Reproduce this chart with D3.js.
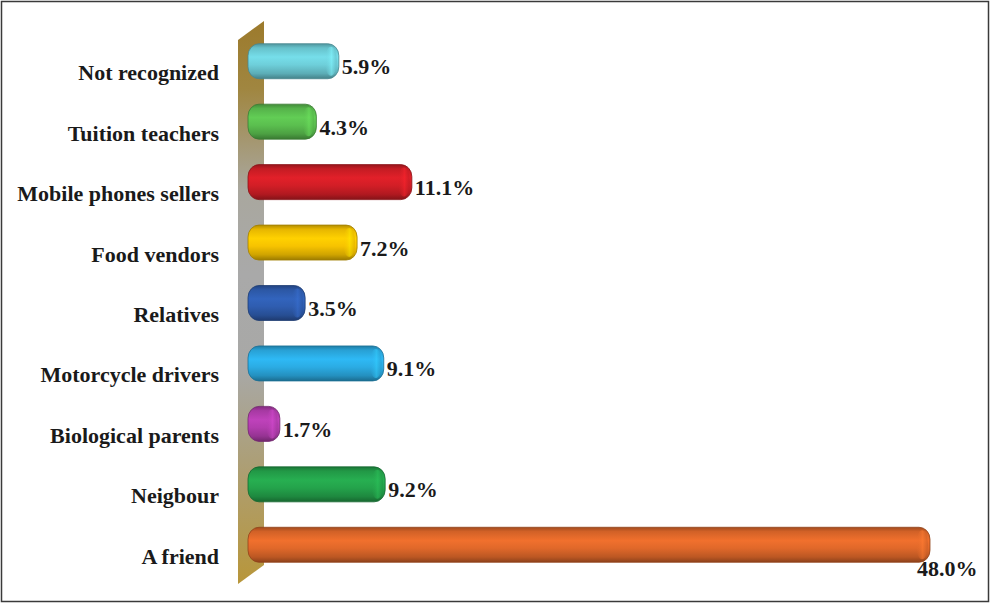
<!DOCTYPE html>
<html>
<head>
<meta charset="utf-8">
<script src="https://cdn.jsdelivr.net/npm/d3@7"></script>
<style>
  html, body { margin: 0; padding: 0; background: #fff; }
  svg { display: block; }
  text { font-family: "Liberation Serif", "Times New Roman", serif; font-weight: bold; fill: #1a1a1a; }
</style>
</head>
<body>
<svg id="chart" width="990" height="603"></svg>
<script>
const categories = ["Not recognized", "Tuition teachers", "Mobile phones sellers", "Food vendors",
  "Relatives", "Motorcycle drivers", "Biological parents", "Neigbour", "A friend"];
const values = [5.9, 4.3, 11.1, 7.2, 3.5, 9.1, 1.7, 9.2, 48.0];
const colors = ["#6ECFDA", "#5BBF4F", "#D21E26", "#F7C300", "#2F5DB0", "#2BACE4", "#B23DAE", "#24A34B", "#E0682A"];
const valueLabels = values.map(v => v.toFixed(1) + "%");

const W = 990, H = 603;
const svg = d3.select("#chart");
const defs = svg.append("defs");

const x = d3.scaleLinear().domain([0, 48]).range([256, 930]);
const y = d3.scalePoint().domain(categories).range([31, 575]).padding(0.5);
const barH = 35;
const cap = 8;

// frame
svg.append("rect").attr("x", 1.5).attr("y", 1.5).attr("width", W - 3).attr("height", H - 3)
  .attr("fill", "#fff").attr("stroke", "#3a3a3a").attr("stroke-width", 1.5);

// wall gradient
const wg = defs.append("linearGradient").attr("id", "wall").attr("x1", 0).attr("y1", 0).attr("x2", 0).attr("y2", 1);
[[0, "#9C7A2C"], [0.12, "#A08640"], [0.3, "#A9A79E"], [0.45, "#A9A9A9"], [0.62, "#A8A8A6"], [0.78, "#AC9F78"], [1, "#B8963A"]]
  .forEach(([o, c]) => wg.append("stop").attr("offset", o).attr("stop-color", c));

const [r0, r1] = y.range();
const wl = x(0) - 18, wr = x(0) + 8, depth = 19;
svg.append("path")
  .attr("d", `M${wl},${r0 + 9} L${wr},${r0 + 9 - depth} L${wr},${r1 - 10} L${wl},${r1 - 10 + depth} Z`)
  .attr("fill", "url(#wall)");

// bars
const g = svg.append("g");
categories.forEach((cat, i) => {
  const c = d3.color(colors[i]);
  const gid = "bar" + i;
  const lg = defs.append("linearGradient").attr("id", gid).attr("x1", 0).attr("y1", 0).attr("x2", 0).attr("y2", 1);
  [[0, c.darker(0.9)], [0.12, c.darker(0.2)], [0.38, c.brighter(0.2)], [0.6, c], [0.85, c.darker(0.5)], [1, c.darker(1.3)]]
    .forEach(([o, col]) => lg.append("stop").attr("offset", o).attr("stop-color", col.formatHex()));
  const cg = defs.append("linearGradient").attr("id", "cap" + i).attr("x1", 0).attr("y1", 0).attr("x2", 1).attr("y2", 0);
  [[0, c.formatHex(), 0], [0.55, c.brighter(0.5).formatHex(), 0.55], [1, c.darker(0.4).formatHex(), 0.5]]
    .forEach(([o, col, op]) => cg.append("stop").attr("offset", o).attr("stop-color", col).attr("stop-opacity", op));

  const yc = y(cat);
  const x0 = x(0) - cap, x1 = x(values[i]);
  g.append("rect")
    .attr("x", x0).attr("y", yc - barH / 2)
    .attr("width", x1 - x0).attr("height", barH)
    .attr("rx", 11).attr("ry", 12)
    .attr("fill", `url(#${gid})`)
    .attr("stroke", c.darker(1.2).formatHex()).attr("stroke-width", 0.8);
  g.append("ellipse")
    .attr("cx", x1 - 8).attr("cy", yc)
    .attr("rx", 6).attr("ry", barH / 2 - 3)
    .attr("fill", `url(#cap${i})`);

  const last = i === categories.length - 1;
  g.append("text")
    .attr("x", last ? x1 - 13 : x1 + 3)
    .attr("y", last ? yc + 31 : yc + 13)
    .attr("font-size", 22)
    .text(valueLabels[i]);
});

// category labels
svg.append("g").selectAll("text").data(categories).join("text")
  .attr("x", 219).attr("y", d => y(d) + 19)
  .attr("text-anchor", "end").attr("font-size", 22)
  .text(d => d);
</script>
</body>
</html>
